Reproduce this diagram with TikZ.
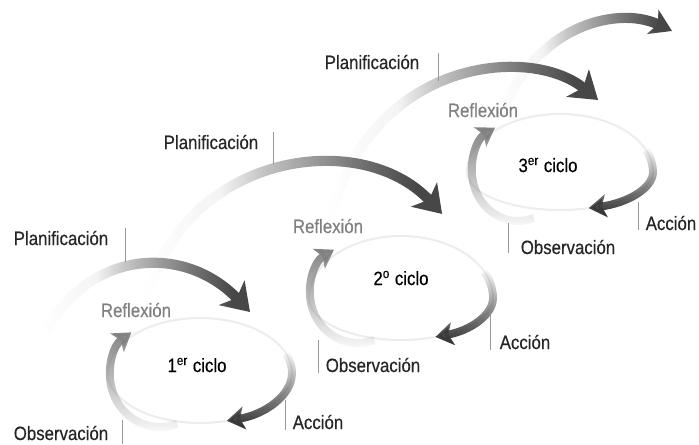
\documentclass[tikz,border=0pt]{standalone}
\usepackage{fontspec}
\setmainfont{Liberation Sans}[FakeStretch=0.87, FakeBold=0.4]
\usepackage{tikz}
\usetikzlibrary{arrows.meta,fadings}
\pgfdeclarehorizontalshading{plantail}{100bp}{color(0bp)=(pgftransparent!100); color(25bp)=(pgftransparent!100); color(38bp)=(pgftransparent!94); color(45bp)=(pgftransparent!68); color(55bp)=(pgftransparent!40); color(62bp)=(pgftransparent!20); color(70bp)=(pgftransparent!0); color(100bp)=(pgftransparent!0)}
\pgfdeclarefading{FADE_LEFT}{\pgfuseshading{plantail}}
\tikzfading[name=FADE_BOTTOM, bottom color=transparent!100, middle color=transparent!10, top color=transparent!0]
\tikzfading[name=FADE_TOP, top color=transparent!100, bottom color=transparent!0]
\tikzstyle{LABEL} = [font=\fontsize{11}{13}\selectfont, text=black!85, inner sep=0pt]
\tikzstyle{TICK} = [draw=black!40, line width=0.5pt]

\begin{document}
\begin{tikzpicture}[x=0.02cm, y=0.02cm]
% Define
\tikzstyle{PLAN} = [line width=5.8pt, draw=black!72, path fading=FADE_LEFT, -{Stealth[length=15pt, width=20pt, inset=4pt]}]
\tikzstyle{REFL} = [line width=4.5pt, draw=black!50, path fading=FADE_BOTTOM, -{Stealth[length=10pt, width=13pt, inset=2.5pt]}]
\tikzstyle{ACC} = [line width=4.5pt, draw=black!78, path fading=FADE_TOP, -{Stealth[length=10pt, width=13pt, inset=2.5pt]}]
\tikzstyle{RIM} = [draw=black!7, line width=1.2pt]
\tikzstyle{REFLABEL} = [LABEL, text=black!50]
\tikzstyle{CICLO} = [LABEL, text=black]
\useasboundingbox (0,0) rectangle (699,444);
% Rims of the cycles
\draw[RIM] (292,71) arc[start angle=0, end angle=180, x radius=92, y radius=55] arc[start angle=180, end angle=360, x radius=92, y radius=50];
\draw[RIM] (493,146) arc[start angle=0, end angle=180, x radius=92, y radius=62] arc[start angle=180, end angle=360, x radius=92, y radius=42];
\draw[RIM] (653,272) arc[start angle=0, end angle=180, x radius=93, y radius=58] arc[start angle=180, end angle=360, x radius=93, y radius=38];
% Planificacion arrows
\draw[PLAN] (45,112) .. controls (90,195) and (185,200) .. (250,132);
\draw[PLAN] (145,140) .. controls (180,290) and (360,318) .. (442,230);
\draw[PLAN] (330,225) .. controls (370,385) and (530,400) .. (598,344);
\draw[PLAN, -{Stealth[length=12pt, width=15pt, inset=3pt]}] (500,325) .. controls (530,415) and (615,440) .. (672,413);
% Reflexion arrows
\draw[REFL] ([shift={(290:50 and 52)}]160,69) arc[start angle=290, end angle=125, x radius=50, y radius=52];
\draw[REFL] ([shift={(290:48 and 50)}]358,151) arc[start angle=290, end angle=120, x radius=48, y radius=50];
\draw[REFL] ([shift={(290:46 and 50)}]518,273) arc[start angle=290, end angle=120, x radius=46, y radius=50];
% Accion arrows
\draw[ACC] ([shift={(20:92 and 55)}]200,71) arc[start angle=20, end angle=0, x radius=92, y radius=55] arc[start angle=0, end angle=-73, x radius=92, y radius=50];
\draw[ACC] ([shift={(25:92 and 62)}]401,146) arc[start angle=25, end angle=0, x radius=92, y radius=62] arc[start angle=0, end angle=-68, x radius=92, y radius=42];
\draw[ACC] ([shift={(22:93 and 58)}]560,272) arc[start angle=22, end angle=0, x radius=93, y radius=58] arc[start angle=0, end angle=-72, x radius=93, y radius=38];
% Ticks
\foreach \x/\ya/\yb in {125/216/182, 285/44/14, 122/24/0, 273/312/280, 490/131/94, 318/104/71, 438/391/363, 638/242/214, 508/221/191}
  \draw[TICK] (\x,\ya) -- (\x,\yb);
% Place nodes
\node[LABEL] (plan1) at (61,206) {Planificación};
\node[REFLABEL] (refl1) at (136,134) {Reflexión};
\node[CICLO] (ciclo1) at (197,79) {1\textsuperscript{er} ciclo};
\node[LABEL] (acc1) at (318,22) {Acción};
\node[LABEL] (obs1) at (61,11) {Observación};
\node[LABEL] (plan2) at (211,302) {Planificación};
\node[REFLABEL] (refl2) at (328,218) {Reflexión};
\node[CICLO] (ciclo2) at (401,166) {2\textsuperscript{o} ciclo};
\node[LABEL] (acc2) at (525,102) {Acción};
\node[LABEL] (obs2) at (373,79) {Observación};
\node[LABEL] (plan3) at (372,382) {Planificación};
\node[REFLABEL] (refl3) at (483,334) {Reflexión};
\node[CICLO] (ciclo3) at (548,279) {3\textsuperscript{er} ciclo};
\node[LABEL] (acc3) at (671,221) {Acción};
\node[LABEL] (obs3) at (568,197) {Observación};
\end{tikzpicture}
\end{document}
